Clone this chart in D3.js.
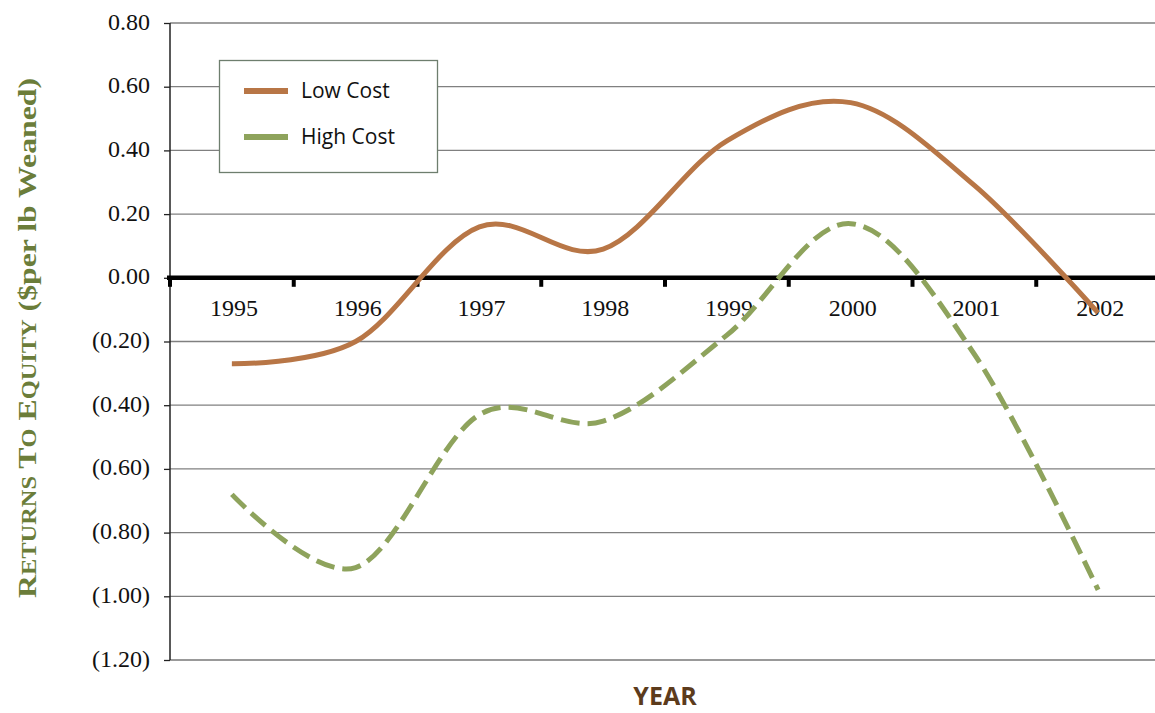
<!DOCTYPE html>
<html>
<head>
<meta charset="utf-8">
<script src="https://cdn.jsdelivr.net/npm/d3@7"></script>
<style>
  html, body { margin: 0; padding: 0; background: #fff; }
  svg { display: block; }
</style>
</head>
<body>
<svg id="chart" width="1155" height="713"></svg>
<script>
const years = ["1995","1996","1997","1998","1999","2000","2001","2002"];
const lowCost = [-0.27, -0.20, 0.16, 0.09, 0.43, 0.55, 0.29, -0.11];
const highCost = [-0.68, -0.91, -0.43, -0.45, -0.18, 0.17, -0.24, -0.98];
const yTicks = [0.8, 0.6, 0.4, 0.2, 0, -0.2, -0.4, -0.6, -0.8, -1.0, -1.2];
const seriesNames = ["Low Cost", "High Cost"];
const seriesColors = ["#b87646", "#8ea35c"];
const yTitleParts = [["R", 26], ["ETURNS", 20], [" T", 26], ["O", 20], [" E", 26], ["QUITY", 20], [" ($per lb Weaned)", 26]];

const svg = d3.select("#chart");
const mLeft = 170, mRight = 1160, mTop = 23, mBottom = 660;
const serif = "'Liberation Serif', 'Times New Roman', serif";

const x = d3.scaleBand().domain(years).range([mLeft, mRight]);
const y = d3.scaleLinear().domain([-1.2, 0.8]).range([mBottom, mTop]);

const fmt = v => {
  const s = Math.abs(v).toFixed(2);
  return v < -1e-9 ? "(" + s + ")" : s;
};

// gridlines
svg.append("g").selectAll("line").data(yTicks.filter(v => v !== 0)).join("line")
  .attr("x1", mLeft).attr("x2", mRight)
  .attr("y1", d => y(d)).attr("y2", d => y(d))
  .attr("stroke", d => d === -1.2 ? "#999" : "#808080")
  .attr("stroke-width", d => d === -1.2 ? 2 : 1.3);

// y axis
const yAxis = d3.axisLeft(y).tickValues(yTicks).tickFormat(fmt).tickSize(6).tickPadding(14);
const gy = svg.append("g").attr("transform", `translate(${mLeft},0)`).call(yAxis);
gy.select(".domain").attr("stroke", "#222").attr("stroke-width", 1.5).attr("d", `M0,${mTop}V${mBottom}`);
gy.selectAll(".tick line").attr("stroke", "#222").attr("stroke-width", 1.3);
gy.selectAll(".tick text")
  .attr("font-family", serif)
  .attr("font-size", 24).attr("fill", "#111").attr("dy", "0.25em");

// zero axis with category ticks
svg.append("line")
  .attr("x1", mLeft - 3).attr("x2", mRight)
  .attr("y1", y(0)).attr("y2", y(0))
  .attr("stroke", "#000").attr("stroke-width", 4.5);
svg.append("g").selectAll("line").data(years).join("line")
  .attr("x1", d => x(d)).attr("x2", d => x(d))
  .attr("y1", y(0)).attr("y2", y(0) + 9)
  .attr("stroke", "#000").attr("stroke-width", 4);

svg.append("g").selectAll("text").data(years).join("text")
  .attr("x", d => x(d) + x.bandwidth() / 2 + 2)
  .attr("y", y(0) + 38)
  .attr("text-anchor", "middle")
  .attr("font-family", serif)
  .attr("font-size", 24).attr("fill", "#111")
  .text(d => d);

// lines
const line = d3.line()
  .x((d, i) => x(years[i]) + x.bandwidth() / 2)
  .y(d => y(d))
  .curve(d3.curveCardinal.tension(0));

svg.append("path").datum(lowCost)
  .attr("d", line).attr("fill", "none")
  .attr("stroke", seriesColors[0]).attr("stroke-width", 5);

svg.append("path").datum(highCost)
  .attr("d", line).attr("fill", "none")
  .attr("stroke", seriesColors[1]).attr("stroke-width", 5)
  .attr("stroke-dasharray", "19,8");

// legend
const lg = svg.append("g");
lg.append("rect").attr("x", 219.5).attr("y", 60.5).attr("width", 218).attr("height", 112)
  .attr("fill", "#fff").attr("stroke", "#6e7e6e").attr("stroke-width", 1.3);
seriesNames.forEach((n, i) => {
  const yy = 91 + i * 46;
  lg.append("line").attr("x1", 244).attr("x2", 288).attr("y1", yy).attr("y2", yy)
    .attr("stroke", seriesColors[i]).attr("stroke-width", 6);
  lg.append("text").attr("x", 301).attr("y", yy + 7)
    .attr("font-family", "'Open Sans', 'Noto Sans', sans-serif")
    .attr("font-size", 21).attr("fill", "#111").text(n);
});

// axis titles
svg.append("text")
  .attr("x", 665).attr("y", 705)
  .attr("text-anchor", "middle")
  .attr("font-family", "'Open Sans', 'Noto Sans', sans-serif")
  .attr("font-weight", "bold").attr("font-size", 25)
  .attr("fill", "#5c3b1c").text("YEAR");

const yt = svg.append("text")
  .attr("transform", "translate(36,338) rotate(-90)")
  .attr("text-anchor", "middle")
  .attr("font-family", serif)
  .attr("font-weight", "bold")
  .attr("fill", "#6b7d3a")
  .attr("textLength", 520).attr("lengthAdjust", "spacingAndGlyphs");
yTitleParts.forEach(([t, s]) => yt.append("tspan").attr("font-size", s).text(t));
</script>
</body>
</html>
